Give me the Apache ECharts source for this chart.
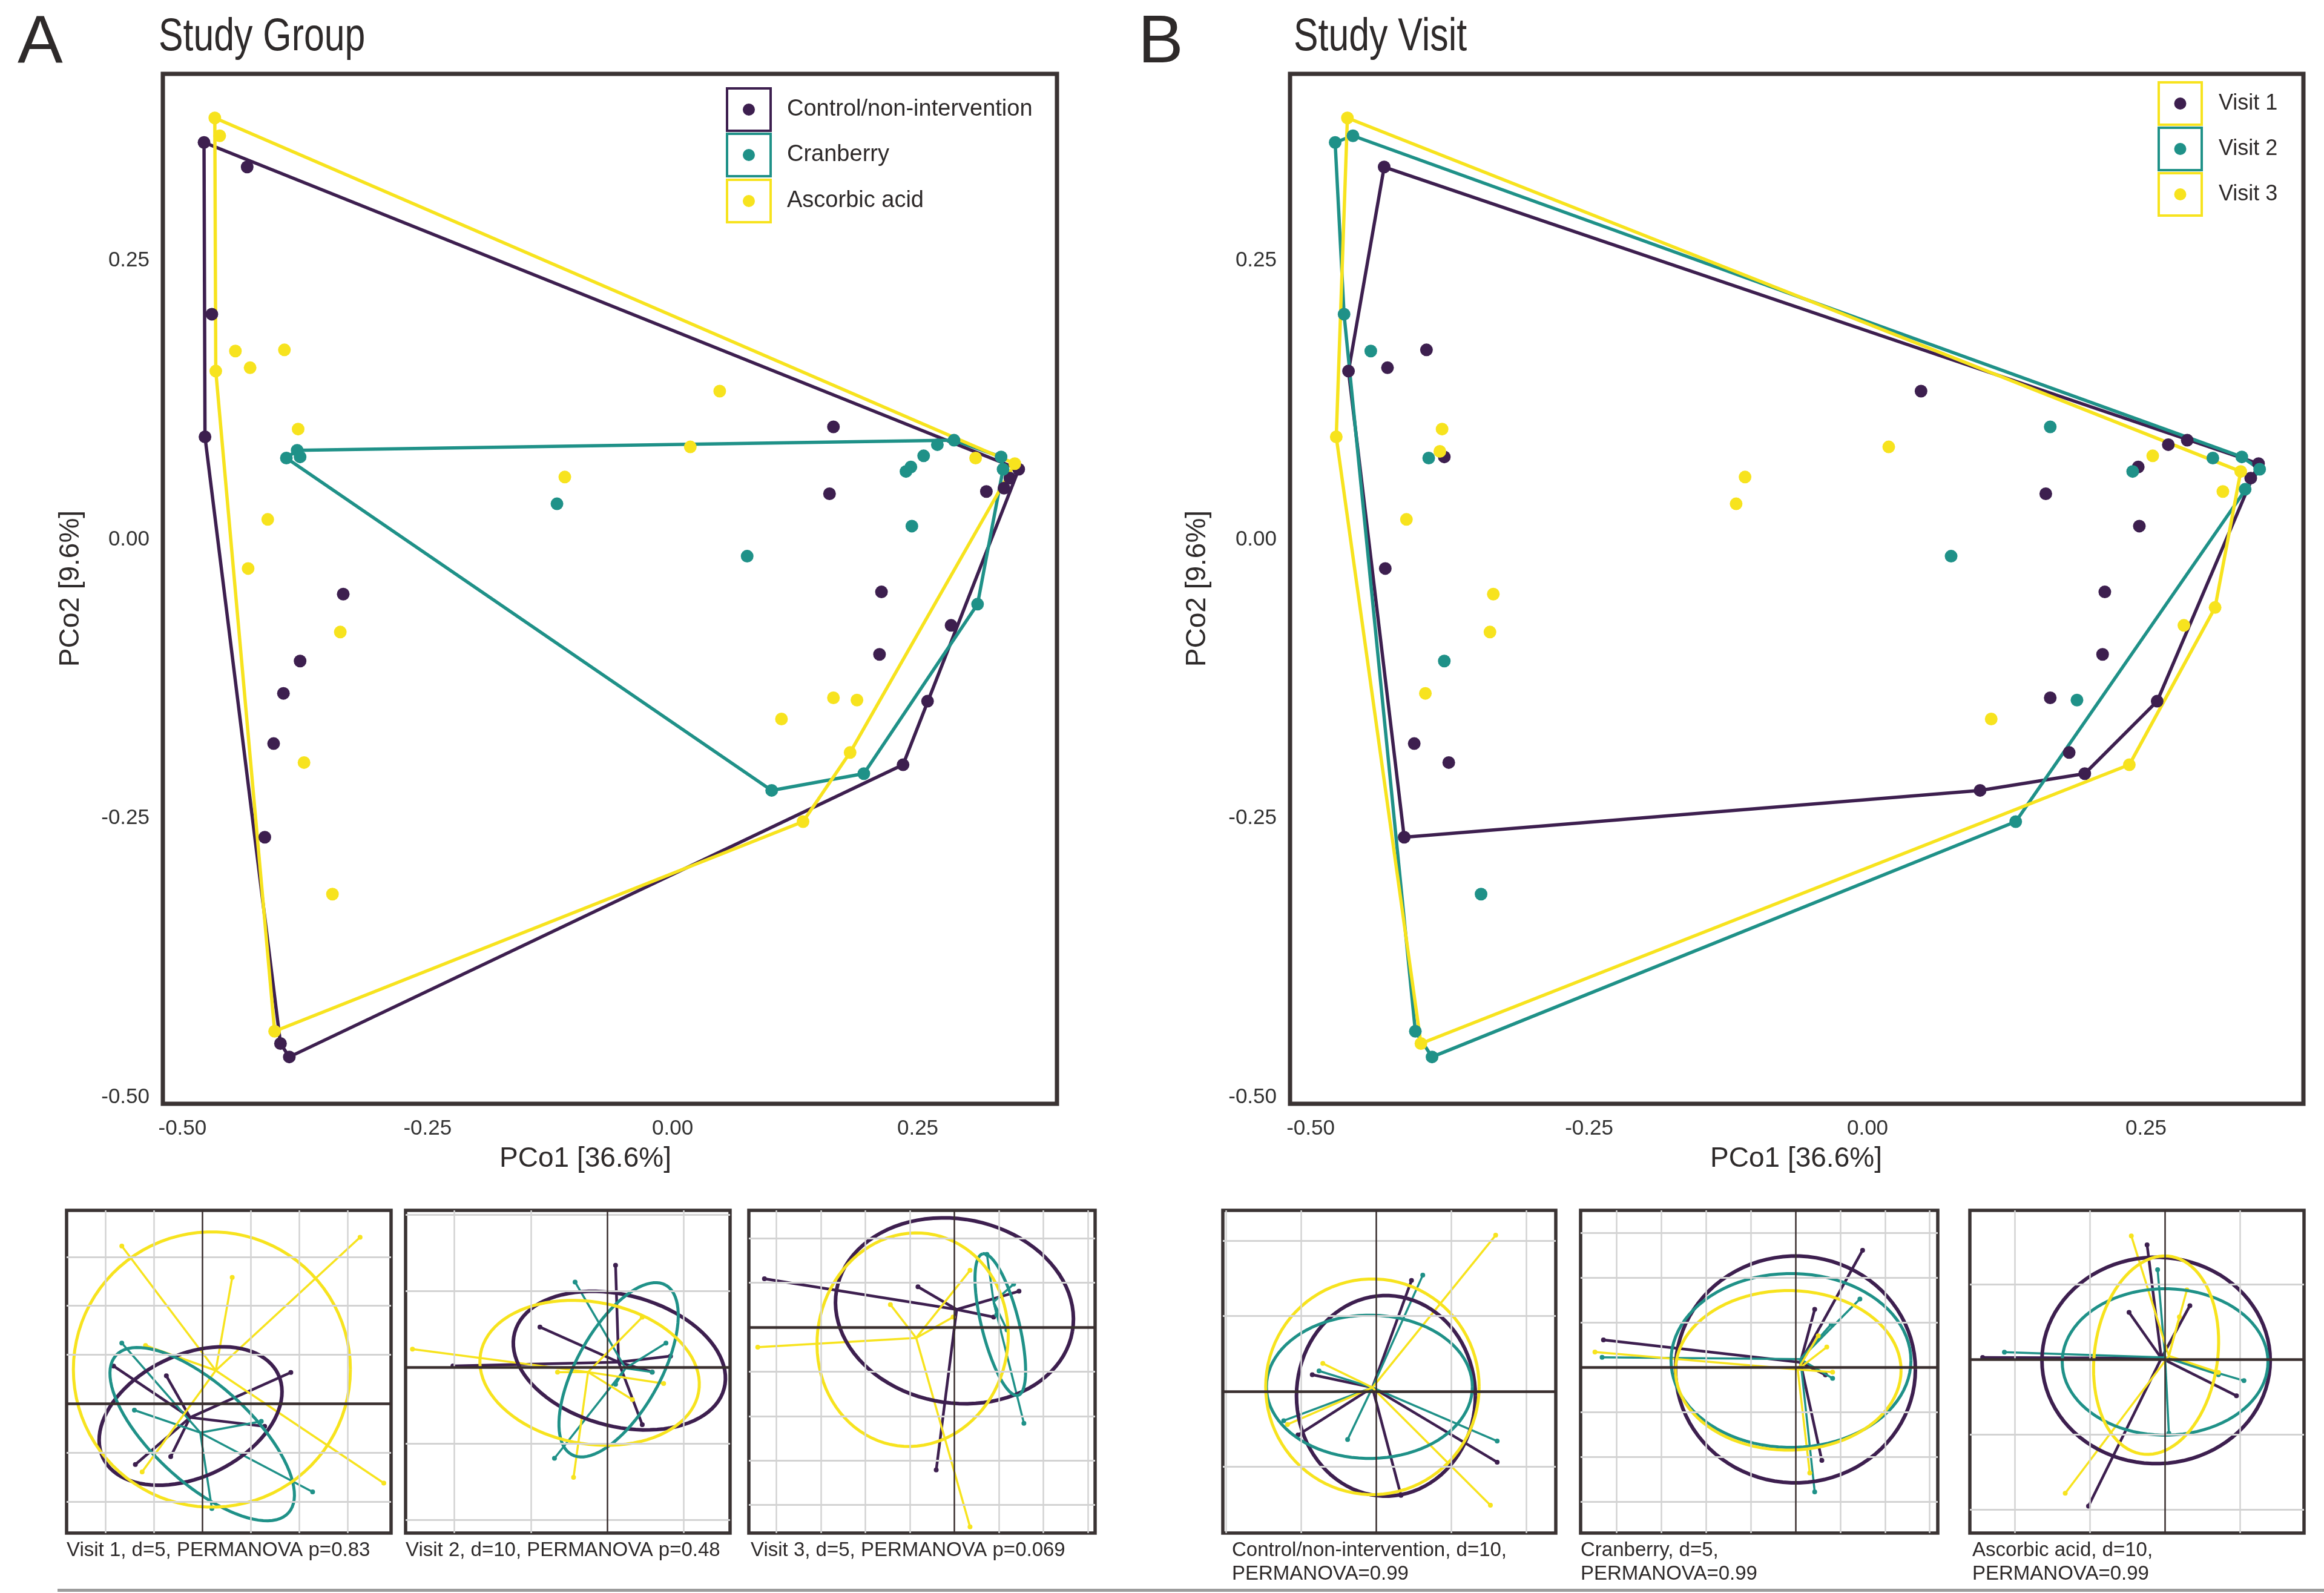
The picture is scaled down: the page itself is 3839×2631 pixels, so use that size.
<!DOCTYPE html>
<html><head><meta charset="utf-8">
<script src="https://cdn.jsdelivr.net/npm/echarts@6/dist/echarts.min.js"></script>
<style>html,body{margin:0;padding:0;background:#fff}#c{width:3839px;height:2631px}</style>
</head><body><div id="c"></div>
<script>
const PURPLE='#3d1f4f', TEAL='#1f9188', YELLOW='#f7e31e';
const groupNames=['Control/non-intervention','Cranberry','Ascorbic acid'];
const visitNames=['Visit 1','Visit 2','Visit 3'];
const axisTicks=[-0.5,-0.25,0,0.25];

// Panel A: points by study group (PCo1, PCo2)
const controlPts=[[-0.478,0.356],[-0.434,0.334],[-0.470,0.202],[-0.477,0.092],[-0.336,-0.049],[-0.380,-0.109],[-0.397,-0.138],[-0.407,-0.183],[-0.416,-0.267],[-0.400,-0.452],[-0.391,-0.464],[0.164,0.101],[0.353,0.063],[0.344,0.055],[0.338,0.046],[0.320,0.043],[0.160,0.041],[0.213,-0.047],[0.284,-0.077],[0.211,-0.103],[0.260,-0.145],[0.235,-0.202]];
const cranberryPts=[[-0.394,0.073],[-0.383,0.080],[-0.380,0.074],[-0.118,0.032],[0.287,0.089],[0.270,0.085],[0.256,0.075],[0.243,0.065],[0.238,0.061],[0.335,0.074],[0.337,0.063],[0.244,0.012],[0.076,-0.015],[0.311,-0.058],[0.195,-0.210],[0.101,-0.225]];
const ascorbicPts=[[-0.467,0.378],[-0.462,0.362],[-0.446,0.169],[-0.396,0.170],[-0.466,0.151],[-0.431,0.154],[-0.382,0.099],[-0.110,0.056],[-0.413,0.018],[-0.433,-0.026],[-0.339,-0.083],[-0.376,-0.200],[-0.347,-0.318],[-0.406,-0.441],[0.048,0.133],[0.018,0.083],[0.309,0.073],[0.349,0.068],[0.164,-0.142],[0.188,-0.144],[0.111,-0.161],[0.181,-0.191],[0.133,-0.253]];
// Panel B: points by study visit
const visit1Pts=[[-0.434,0.334],[-0.396,0.170],[-0.466,0.151],[-0.431,0.154],[-0.380,0.074],[-0.433,-0.026],[-0.407,-0.183],[-0.376,-0.200],[-0.416,-0.267],[0.048,0.133],[0.287,0.089],[0.270,0.085],[0.243,0.065],[0.351,0.068],[0.344,0.055],[0.160,0.041],[0.244,0.012],[0.213,-0.047],[0.211,-0.103],[0.260,-0.145],[0.164,-0.142],[0.181,-0.191],[0.195,-0.210],[0.101,-0.225]];
const visit2Pts=[[-0.462,0.362],[-0.478,0.356],[-0.470,0.202],[-0.446,0.169],[-0.394,0.073],[-0.380,-0.109],[-0.347,-0.318],[-0.406,-0.441],[-0.391,-0.464],[0.164,0.101],[0.238,0.061],[0.310,0.073],[0.336,0.074],[0.352,0.063],[0.339,0.045],[0.075,-0.015],[0.188,-0.144],[0.133,-0.253]];
const visit3Pts=[[-0.467,0.378],[-0.382,0.099],[-0.477,0.092],[-0.384,0.079],[-0.110,0.056],[-0.118,0.032],[-0.414,0.018],[-0.336,-0.049],[-0.339,-0.083],[-0.397,-0.138],[-0.401,-0.452],[0.019,0.083],[0.256,0.075],[0.335,0.061],[0.319,0.043],[0.312,-0.061],[0.284,-0.077],[0.111,-0.161],[0.235,-0.202]];

// Small dispersion panels: ellipses [cx, cy, semiA, semiB, angleDeg], centroids, spoke end points (order: purple, teal, yellow)
const v1Ellipses=[[-0.24,-0.25,2.0,1.25,25],[0.0,-0.62,2.4,1.0,-42],[0.2,0.7,2.86,2.81,0]];
const v1Centroids=[[-0.25,-0.28],[-0.04,-0.59],[0.28,0.68]];
const v1Spokes=[[[-1.83,0.77],[1.83,0.64],[-0.74,0.57],[-1.38,-1.24],[-0.65,-1.08],[1.29,-0.46]],[[-1.66,1.24],[-1.40,-0.13],[2.28,-1.80],[1.22,-0.36],[0.20,-2.14]],[[-1.66,3.22],[3.26,3.40],[0.62,2.58],[3.75,-1.62],[-1.24,-1.39],[-1.17,1.19]]];
const v2Ellipses=[[0.16,0.09,1.42,0.86,-15],[0.15,-0.03,1.27,0.55,61],[-0.23,-0.07,1.45,0.93,-10]];
const v2Centroids=[[0.15,0.07],[0.24,-0.01],[-0.25,-0.06]];
const v2Spokes=[[[0.11,1.34],[-0.88,0.53],[-2.02,0.02],[0.83,0.15],[0.59,-0.06],[0.46,-0.75]],[[-0.42,1.12],[-0.69,-1.19],[0.77,0.32],[0.59,-0.06],[0.11,-0.22]],[[-2.55,0.24],[0.74,-0.21],[-0.44,-1.44],[0.33,-0.42],[-0.65,-0.06],[0.46,0.66]]];
const v3Ellipses=[[0.0,0.37,2.69,2.07,-10],[1.03,0.06,1.64,0.42,104],[-0.94,-0.28,2.14,2.41,-10]];
const v3Centroids=[[0.05,0.40],[0.88,0.57],[-0.86,-0.24]];
const v3Spokes=[[[-4.27,1.09],[1.45,0.81],[-0.41,-3.21],[-0.82,0.91],[0.88,0.23]],[[0.73,1.64],[1.56,-2.16],[1.18,-0.06],[1.33,0.97],[0.95,0.28]],[[-4.42,-0.45],[0.35,-4.49],[-1.44,0.51],[0.35,1.28],[-0.03,0.23]]];
const ctlEllipses=[[0.13,-0.06,1.19,1.33,0],[-0.09,0.06,1.37,0.95,0],[-0.05,0.06,1.42,1.43,0]];
const ctlCentroids=[[-0.05,0.05],[-0.05,0.05],[-0.05,0.05]];
const ctlSpokes=[[[0.47,1.47],[0.33,-1.38],[1.61,-0.94],[-0.85,0.22],[-1.04,-0.58]],[[0.62,1.54],[1.61,-0.66],[-0.38,-0.64],[-1.23,-0.39],[-0.76,0.27]],[[1.59,2.07],[1.52,-1.51],[-0.71,0.37],[-1.18,-0.44]]];
const cbEllipses=[[0,-0.05,2.68,2.53,0],[-0.1,0.15,2.68,1.94,0],[-0.16,-0.07,2.52,1.78,0]];
const cbCentroids=[[0.11,0.11],[0.11,0.18],[0.05,-0.05]];
const cbSpokes=[[[-4.29,0.61],[1.5,2.61],[0.43,1.29],[0.59,-2.08],[0.67,-0.17]],[[-4.32,0.22],[1.44,1.52],[0.43,-2.78],[0.8,0.96],[0.83,-0.25]],[[-4.48,0.34],[0.32,-2.36],[0.70,0.45],[0.83,-0.11],[0.51,0.70]]];
const aaEllipses=[[-0.12,-0.01,1.52,1.375,0],[0,-0.03,1.37,0.975,0],[-0.12,0.06,0.82,1.33,-8]];
const aaCentroids=[[-0.05,0.02],[0.0,0.03],[0.05,0.05]];
const aaSpokes=[[[-2.43,0.03],[-0.24,1.53],[-1.02,-1.95],[0.33,0.72],[-0.48,0.63],[0.95,-0.48]],[[-2.14,0.10],[1.05,-0.28],[-0.1,1.2],[0.05,-0.98],[0.71,-0.2]],[[-0.45,1.65],[-1.33,-1.78],[0.29,0.93],[0.71,-0.17],[0.19,0.57]]];

const COLORS=[PURPLE,TEAL,YELLOW];
const FONT="'Liberation Sans', Arial, sans-serif";
const TXT='#2e2a2a', BORDER='#3a3333';

function hull(pts){
  const p=pts.slice().sort((a,b)=>a[0]-b[0]||a[1]-b[1]);
  const cr=(o,a,b)=>(a[0]-o[0])*(b[1]-o[1])-(a[1]-o[1])*(b[0]-o[0]);
  const lo=[],up=[];
  for(const q of p){while(lo.length>=2&&cr(lo[lo.length-2],lo[lo.length-1],q)<=0)lo.pop();lo.push(q);}
  for(const q of p.slice().reverse()){while(up.length>=2&&cr(up[up.length-2],up[up.length-1],q)<=0)up.pop();up.push(q);}
  lo.pop();up.pop();const h=lo.concat(up);h.push(h[0]);return h;
}

const mainPanels=[
  {rect:[269,122,1477,1701], x:[-0.52,0.392], y:[-0.506,0.4175], sets:[controlPts,cranberryPts,ascorbicPts]},
  {rect:[2131,122,1674,1701], x:[-0.5185,0.3913], y:[-0.506,0.4175], sets:[visit1Pts,visit2Pts,visit3Pts]}
];
const smallPanels=[
  {rect:[110,1999,536,533], x:[-2.8,3.9], y:[-2.64,3.95], ell:v1Ellipses, cen:v1Centroids, spk:v1Spokes},
  {rect:[670,1999,536,533], x:[-2.64,1.61], y:[-2.17,2.06], ell:v2Ellipses, cen:v2Centroids, spk:v2Spokes},
  {rect:[1237,1999,572,533], x:[-4.62,3.16], y:[-4.63,2.63], ell:v3Ellipses, cen:v3Centroids, spk:v3Spokes},
  {rect:[2020,1999,550,533], x:[-2.04,2.39], y:[-1.88,2.40], ell:ctlEllipses, cen:ctlCentroids, spk:ctlSpokes},
  {rect:[2611,1999,590,533], x:[-4.8,3.18], y:[-3.70,3.5], ell:cbEllipses, cen:cbCentroids, spk:cbSpokes},
  {rect:[3254,1999,552,533], x:[-2.6,1.85], y:[-2.31,1.99], ell:aaEllipses, cen:aaCentroids, spk:aaSpokes}
];
const captions=[
  {x:110, lines:['Visit 1, d=5, PERMANOVA p=0.83']},
  {x:670, lines:['Visit 2, d=10, PERMANOVA p=0.48']},
  {x:1240, lines:['Visit 3, d=5, PERMANOVA p=0.069']},
  {x:2035, lines:['Control/non-intervention, d=10,','PERMANOVA=0.99']},
  {x:2611, lines:['Cranberry, d=5,','PERMANOVA=0.99']},
  {x:3258, lines:['Ascorbic acid, d=10,','PERMANOVA=0.99']}
];

const grids=[],xAxes=[],yAxes=[],series=[];
mainPanels.forEach((p,gi)=>{
  grids.push({left:p.rect[0],top:p.rect[1],width:p.rect[2],height:p.rect[3],show:true,borderColor:BORDER,borderWidth:7,backgroundColor:'#ffffff'});
  const lab={customValues:axisTicks,formatter:v=>Number(v).toFixed(2),fontSize:35,color:'#333',fontFamily:FONT,margin:24};
  xAxes.push({gridIndex:gi,type:'value',min:p.x[0],max:p.x[1],axisLine:{show:false},axisTick:{show:false},splitLine:{show:false},axisLabel:lab});
  yAxes.push({gridIndex:gi,type:'value',min:p.y[0],max:p.y[1],axisLine:{show:false},axisTick:{show:false},splitLine:{show:false},axisLabel:Object.assign({},lab,{margin:22})});
  p.sets.forEach((pts,k)=>{
    series.push({type:'line',xAxisIndex:gi,yAxisIndex:gi,data:hull(pts),symbol:'none',silent:true,z:2,
      lineStyle:{color:COLORS[k],width:5.5},animation:false});
  });
  p.sets.forEach((pts,k)=>{
    series.push({type:'scatter',xAxisIndex:gi,yAxisIndex:gi,data:pts,symbolSize:21,z:3,
      itemStyle:{color:COLORS[k],opacity:1},animation:false});
  });
});

function ellipseRender(color,w){
  return (params,api)=>{
    const cx=api.value(0),cy=api.value(1),a=api.value(2),b=api.value(3),ang=api.value(4)*Math.PI/180;
    const pts=[];
    for(let k=0;k<=90;k++){const t=k/90*2*Math.PI;const ex=a*Math.cos(t),ey=b*Math.sin(t);
      pts.push(api.coord([cx+ex*Math.cos(ang)-ey*Math.sin(ang),cy+ex*Math.sin(ang)+ey*Math.cos(ang)]));}
    return {type:'polyline',shape:{points:pts},style:{stroke:color,lineWidth:w,fill:null}};
  };
}
function spokeRender(color,w){
  return (params,api)=>{
    const s=api.coord([api.value(0),api.value(1)]),e=api.coord([api.value(2),api.value(3)]);
    return {type:'group',children:[
      {type:'line',shape:{x1:s[0],y1:s[1],x2:e[0],y2:e[1]},style:{stroke:color,lineWidth:w}},
      {type:'circle',shape:{cx:e[0],cy:e[1],r:4},style:{fill:color}}]};
  };
}

smallPanels.forEach((p,j)=>{
  const gi=j+2;
  grids.push({left:p.rect[0],top:p.rect[1],width:p.rect[2],height:p.rect[3],show:true,borderColor:BORDER,borderWidth:5.5,backgroundColor:'#ffffff'});
  xAxes.push({gridIndex:gi,type:'value',min:p.x[0],max:p.x[1],show:false});
  yAxes.push({gridIndex:gi,type:'value',min:p.y[0],max:p.y[1],show:false});
  const ml=[];
  for(let v=Math.ceil(p.x[0]);v<=Math.floor(p.x[1]);v++) if(v!==0) ml.push({xAxis:v,lineStyle:{color:'#d3d3d3',width:2.5,type:'solid'}});
  for(let v=Math.ceil(p.y[0]);v<=Math.floor(p.y[1]);v++) if(v!==0) ml.push({yAxis:v,lineStyle:{color:'#d3d3d3',width:3,type:'solid'}});
  ml.push({xAxis:0,lineStyle:{color:'#3a2f2f',width:2.5,type:'solid'}});
  ml.push({yAxis:0,lineStyle:{color:'#3a2f2f',width:4.5,type:'solid'}});
  series.push({type:'scatter',xAxisIndex:gi,yAxisIndex:gi,data:[[0,0]],symbolSize:0,silent:true,z:1,animation:false,
    markLine:{silent:true,symbol:['none','none'],label:{show:false},animation:false,data:ml}});
  [0,1,2].forEach(k=>{
    const data=p.spk[k].map(e=>[p.cen[k][0],p.cen[k][1],e[0],e[1]]);
    series.push({type:'custom',xAxisIndex:gi,yAxisIndex:gi,data:data,renderItem:spokeRender(COLORS[k],k===0?4.5:3.5),
      encode:{x:[0,2],y:[1,3]},silent:true,z:2,animation:false,clip:true});
  });
  [0,1,2].forEach(k=>{
    series.push({type:'custom',xAxisIndex:gi,yAxisIndex:gi,data:[p.ell[k]],renderItem:ellipseRender(COLORS[k],k===0?6:5),
      encode:{x:0,y:1},silent:true,z:3,animation:false,clip:true});
  });
});

const graphic=[];
function txt(x,y,s,size,align,extra){graphic.push(Object.assign({type:'text',x:x,y:y,silent:true,
  style:{text:s,fontSize:size,fontFamily:FONT,fill:TXT,align:align||'left',verticalAlign:'middle'}},extra||{}));}
txt(29,72,'A',112);
txt(262,62,'Study Group',76,'left',{scaleX:0.8});
txt(1880,72,'B',112);
txt(2137,62,'Study Visit',76,'left',{scaleX:0.8});
txt(967,1914,'PCo1 [36.6%]',46,'center');
txt(2967,1914,'PCo1 [36.6%]',46,'center');
graphic.push({type:'text',x:117,y:972,rotation:Math.PI/2,silent:true,style:{text:'PCo2 [9.6%]',fontSize:46,fontFamily:FONT,fill:TXT,align:'center',verticalAlign:'middle'}});
graphic.push({type:'text',x:1978,y:972,rotation:Math.PI/2,silent:true,style:{text:'PCo2 [9.6%]',fontSize:46,fontFamily:FONT,fill:TXT,align:'center',verticalAlign:'middle'}});
// legends
function legendRows(x0,ys,w,h,boxColors,dotColors,labels,tx,fs){
  ys.forEach((y,i)=>{
    graphic.push({type:'rect',shape:{x:x0,y:y,width:w,height:h},style:{fill:'#fff',stroke:boxColors[i],lineWidth:4},z:10,silent:true});
    graphic.push({type:'circle',shape:{cx:x0+w/2,cy:y+h/2,r:10},style:{fill:dotColors[i]},z:11,silent:true});
    graphic.push({type:'text',x:tx,y:y+h/2,z:11,silent:true,style:{text:labels[i],fontSize:fs,fontFamily:FONT,fill:TXT,align:'left',verticalAlign:'middle'}});
  });
}
legendRows(1201,[146,221,297],72,70,[PURPLE,TEAL,YELLOW],COLORS,groupNames,1300,38);
legendRows(3566,[136,211,286],71,70,[YELLOW,TEAL,YELLOW],COLORS,visitNames,3665,36);
captions.forEach(c=>{c.lines.forEach((l,i)=>txt(c.x,2561+i*39,l,33));});
graphic.push({type:'rect',shape:{x:95,y:2624,width:3744,height:5},style:{fill:'#9c9c9c'},silent:true});

const chart=echarts.init(document.getElementById('c'),null,{renderer:'canvas'});
chart.setOption({backgroundColor:'#ffffff',animation:false,grid:grids,xAxis:xAxes,yAxis:yAxes,series:series,graphic:graphic});
</script></body></html>
